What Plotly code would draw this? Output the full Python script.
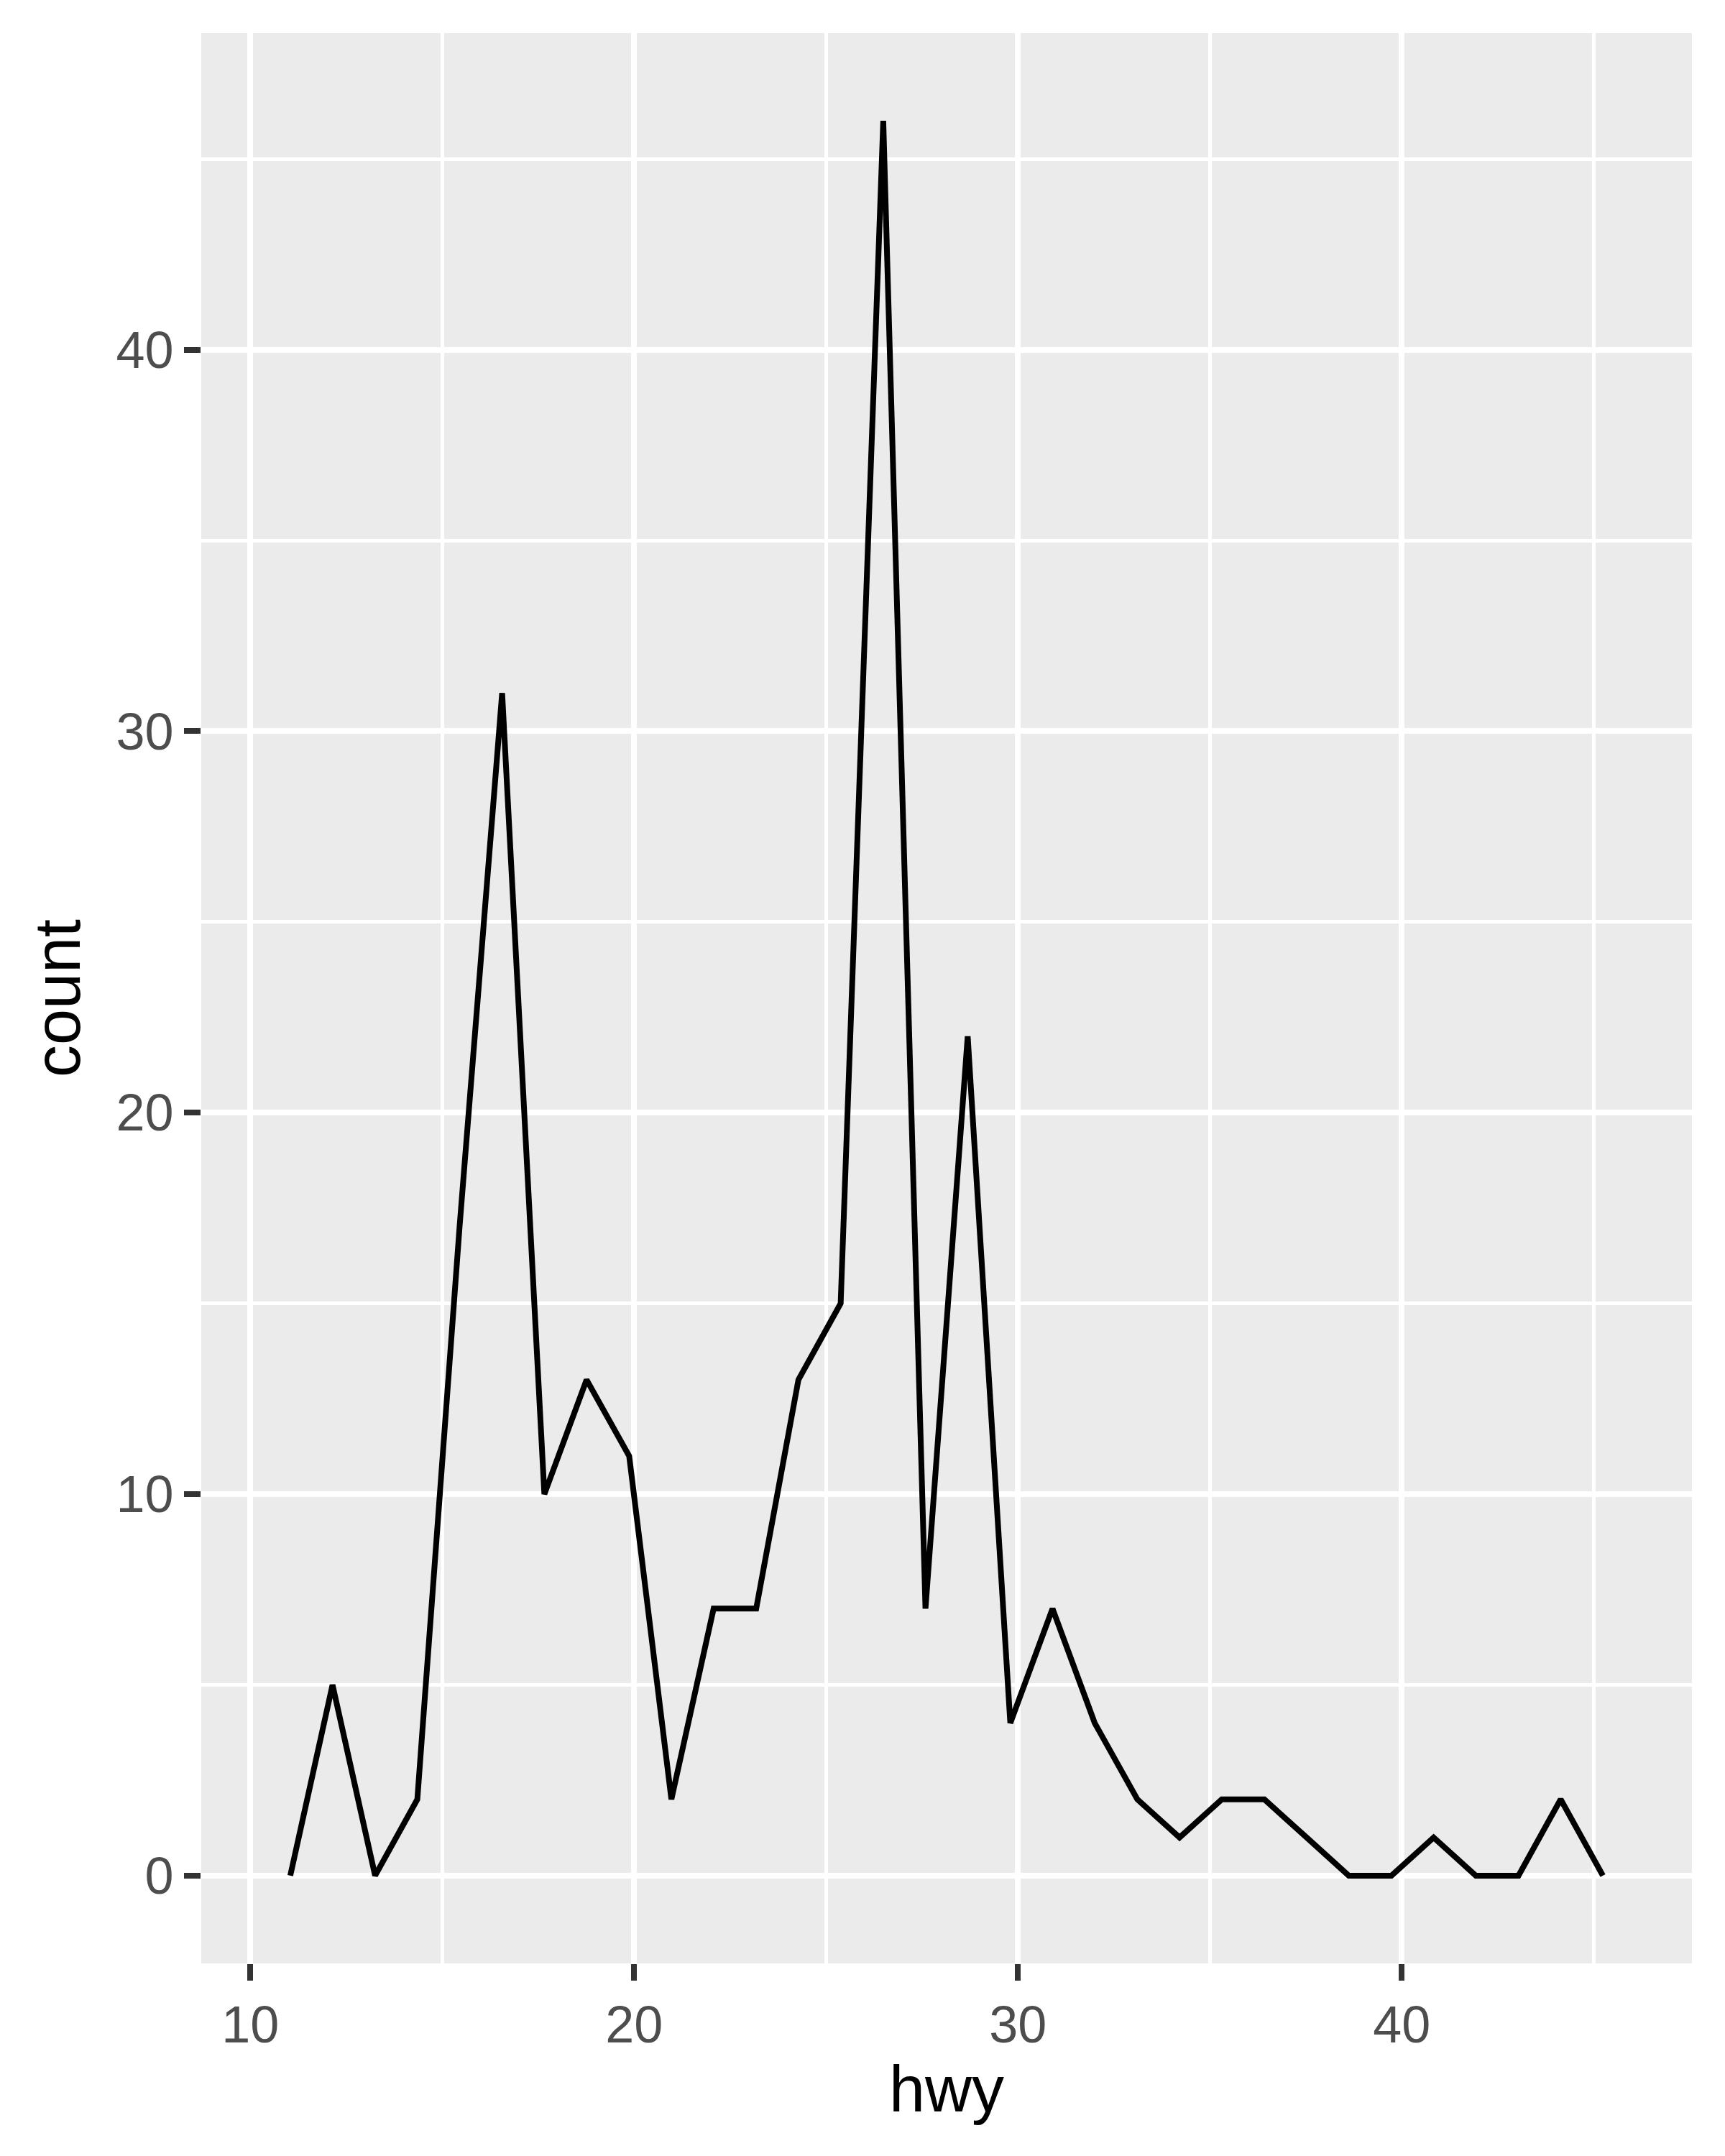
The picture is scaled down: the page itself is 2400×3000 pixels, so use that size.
import plotly.graph_objects as go

hwy_bin_centers = [11.04, 12.14, 13.25, 14.35, 15.45, 16.56, 17.66, 18.76, 19.87, 20.97,
                   22.07, 23.18, 24.28, 25.38, 26.49, 27.59, 28.69, 29.80, 30.90, 32.00,
                   33.11, 34.21, 35.31, 36.42, 37.52, 38.62, 39.73, 40.83, 41.93, 43.04,
                   44.14, 45.24]
counts = [0, 5, 0, 2, 17, 31, 10, 13, 11, 2,
          7, 7, 13, 15, 46, 7, 22, 4, 7, 4,
          2, 1, 2, 2, 1, 0, 0, 1, 0, 0,
          2, 0]
x_ticks = [10, 20, 30, 40]
y_ticks = [0, 10, 20, 30, 40]

FONT = "Liberation Sans, Arial, Helvetica, sans-serif"

fig = go.Figure()
fig.add_trace(go.Scatter(
    x=hwy_bin_centers, y=counts, mode="lines",
    line=dict(color="black", width=8),
    showlegend=False, hoverinfo="skip",
))

axis_common = dict(
    showline=False, zeroline=False,
    showgrid=True, gridcolor="white", gridwidth=8,
    ticks="outside", ticklen=23, tickwidth=8, tickcolor="#333333",
    tickfont=dict(family=FONT, size=72, color="#4D4D4D"),
)

fig.update_layout(
    width=2400, height=3000, autosize=False,
    margin=dict(l=272, r=54, t=38, b=276),
    paper_bgcolor="white", plot_bgcolor="#EBEBEB",
    font=dict(family=FONT),
    xaxis=dict(
        range=[8.72, 47.56], tickmode="array", tickvals=x_ticks,
        ticktext=[str(v) for v in x_ticks],
        minor=dict(showgrid=True, gridcolor="white", gridwidth=4.5,
                   tickmode="array", tickvals=[15, 25, 35, 45], ticks=""),
        title=dict(text="hwy", font=dict(family=FONT, size=90, color="black"), standoff=16),
        **axis_common,
    ),
    yaxis=dict(
        range=[-2.3, 48.3], tickmode="array", tickvals=y_ticks,
        ticktext=[str(v) for v in y_ticks],
        minor=dict(showgrid=True, gridcolor="white", gridwidth=4.5,
                   tickmode="array", tickvals=[5, 15, 25, 35, 45], ticks=""),
        title=dict(text="count", font=dict(family=FONT, size=90, color="black"), standoff=20),
        **axis_common,
    ),
)

fig.write_html("out.html")
